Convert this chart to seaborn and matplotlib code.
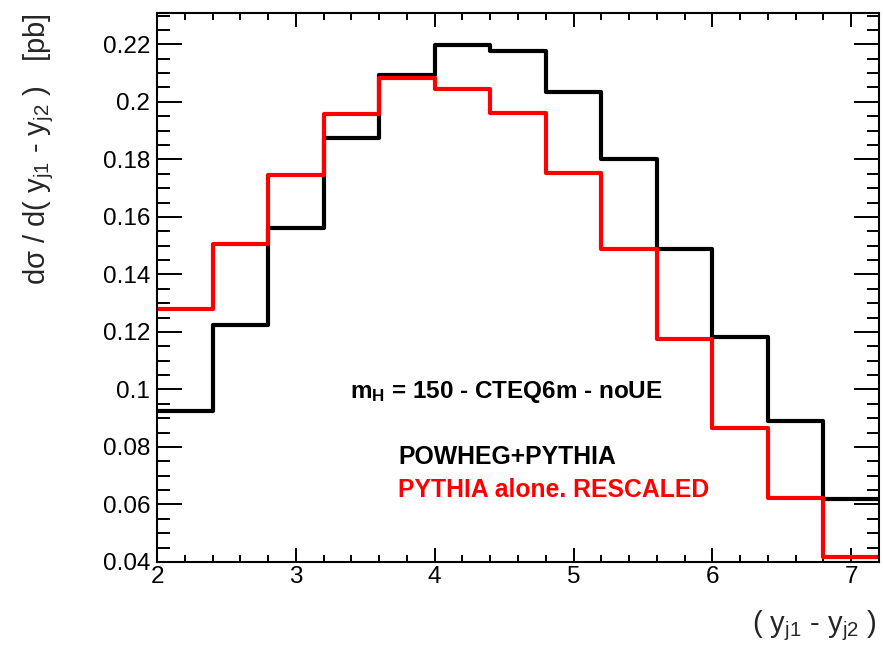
import numpy as np
import pandas as pd
import matplotlib
matplotlib.use("Agg")
import matplotlib.pyplot as plt
from matplotlib.ticker import MultipleLocator, FuncFormatter, FixedLocator
import seaborn as sns

# ---- data ----
bin_edges = [2.0, 2.4, 2.8, 3.2, 3.6, 4.0, 4.4, 4.8, 5.2, 5.6, 6.0, 6.4, 6.8, 7.2]
powheg_pythia = [0.0925, 0.1224, 0.1563, 0.1876, 0.2093, 0.2199, 0.2176,
                 0.2034, 0.1802, 0.1490, 0.1182, 0.0889, 0.0620]
pythia_rescaled = [0.1280, 0.1505, 0.1747, 0.1958, 0.2083, 0.2045, 0.1960,
                   0.1752, 0.1488, 0.1176, 0.0867, 0.0622, 0.0417]
x_ticks = [2, 3, 4, 5, 6, 7]
y_ticks = [0.04, 0.06, 0.08, 0.1, 0.12, 0.14, 0.16, 0.18, 0.2, 0.22]

sns.set_style("ticks")
plt.rcParams["font.family"] = ["Liberation Sans", "DejaVu Sans"]
plt.rcParams["mathtext.fontset"] = "custom"
plt.rcParams["mathtext.rm"] = "Liberation Sans"
plt.rcParams["mathtext.it"] = "Liberation Sans"
plt.rcParams["mathtext.bf"] = "Liberation Sans:bold"

centers = [(a + b) / 2 for a, b in zip(bin_edges[:-1], bin_edges[1:])]
df_black = pd.DataFrame({"x": centers, "w": powheg_pythia})
df_red = pd.DataFrame({"x": centers, "w": pythia_rescaled})

fig = plt.figure(figsize=(8.83, 6.49), dpi=100)
ax = fig.add_axes([157 / 883, 1 - 562 / 649, (879 - 157) / 883, (562 - 13) / 649])

sns.histplot(data=df_black, x="x", weights="w", bins=bin_edges, element="step",
             fill=False, color="black", linewidth=3, ax=ax)
sns.histplot(data=df_red, x="x", weights="w", bins=bin_edges, element="step",
             fill=False, color="#ff0000", linewidth=3, ax=ax)

ax.set_xlim(2.0, 7.2)
ax.set_ylim(0.04, 0.2309)
ax.set_xlabel("")
ax.set_ylabel("")

ax.xaxis.set_major_locator(FixedLocator(x_ticks))
ax.yaxis.set_major_locator(FixedLocator(y_ticks))
ax.xaxis.set_minor_locator(MultipleLocator(0.2))
ax.yaxis.set_minor_locator(MultipleLocator(0.005))
ax.yaxis.set_major_formatter(FuncFormatter(lambda v, p: f"{v:g}"))
ax.xaxis.set_major_formatter(FuncFormatter(lambda v, p: f"{v:g}"))

for s in ax.spines.values():
    s.set_visible(True)
    s.set_linewidth(1.5)
    s.set_color("black")

ax.tick_params(axis="both", which="both", direction="in", top=True, right=True,
               width=1.4, color="black", labelsize=17.5, labelcolor="black")
ax.tick_params(axis="y", which="major", length=18, pad=5)
ax.tick_params(axis="y", which="minor", length=9)
ax.tick_params(axis="x", which="major", length=10, pad=3)
ax.tick_params(axis="x", which="minor", length=5)

fig.text(39 / 883, 1 - 13 / 649,
         r"d$\sigma$ / d( y$_{j1}$ - y$_{j2}$ )   [pb]",
         rotation=90, ha="center", va="top", fontsize=21)
fig.text(877 / 883, 1 - 632 / 649, r"( y$_{j1}$ - y$_{j2}$ )",
         ha="right", va="baseline", fontsize=21)

fig.text(350 / 883, 1 - 398 / 649, r"m$_{\mathbf{H}}$ = 150 - CTEQ6m - noUE",
         ha="left", va="baseline", fontsize=17.5, fontweight="bold", color="black")
fig.text(398 / 883, 1 - 464 / 649, "POWHEG+PYTHIA",
         ha="left", va="baseline", fontsize=17.8, fontweight="bold", color="black")
fig.text(398 / 883, 1 - 497 / 649, "PYTHIA alone. RESCALED",
         ha="left", va="baseline", fontsize=17.8, fontweight="bold", color="#ff0000")

fig.savefig("out.png", dpi=100)
